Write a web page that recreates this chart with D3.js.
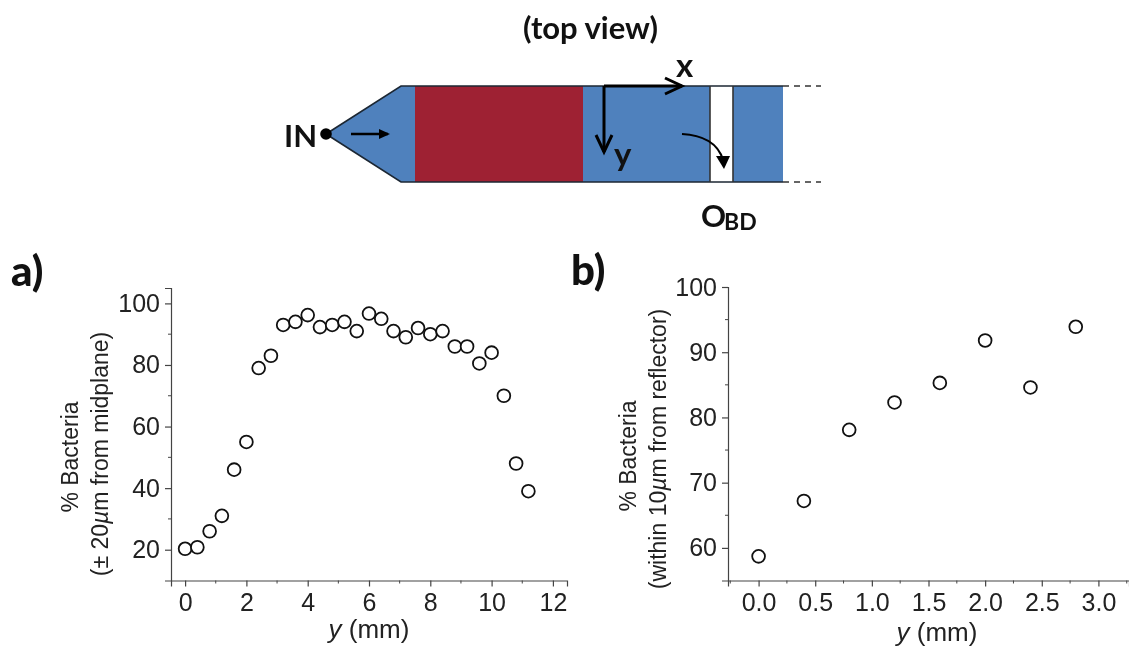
<!DOCTYPE html>
<html><head><meta charset="utf-8">
<script src="https://cdn.jsdelivr.net/npm/d3@7"></script>
<style>html,body{margin:0;padding:0;background:#fff}svg{display:block;filter:blur(0.35px)}
.tick text{font-family:"Liberation Sans",Arial,sans-serif}</style></head>
<body><svg id="c" width="1129" height="648"></svg>
<script>
const yPositionsA=[0,0.4,0.8,1.2,1.6,2,2.4,2.8,3.2,3.6,4,4.4,4.8,5.2,5.6,6,6.4,6.8,7.2,7.6,8,8.4,8.8,9.2,9.6,10,10.4,10.8,11.2];
const bacteriaA=[20.3,20.8,26,31,46,55,79,83,93,94,96.2,92.3,93,94,91,96.7,95,91,89,92,90,91,86,86,80.5,84,70,48,39];
const yPositionsB=[0,0.4,0.8,1.2,1.6,2,2.4,2.8];
const bacteriaB=[58.7,67.2,78.1,82.3,85.3,91.8,84.6,93.9];
const xTicksA=[0,2,4,6,8,10,12], xMinorA=[1,3,5,7,9,11];
const yTicksA=[20,40,60,80,100], yMinorA=[30,50,70,90];
const xTicksB=[0,0.5,1,1.5,2,2.5,3], xMinorB=[-0.25,0.25,0.75,1.25,1.75,2.25,2.75,3.25];
const yTicksB=[60,70,80,90,100], yMinorB=[65,75,85,95];

const svg=d3.select("#c");
const sans='"Liberation Sans",Arial,sans-serif', bold='Lato,"Open Sans",sans-serif';
const ink="#222";

function panel(o){
  const x=d3.scaleLinear().domain(o.xDom).range(o.xRange);
  const y=d3.scaleLinear().domain(o.yDom).range(o.yRange);
  const g=svg.append("g");
  const base=o.yRange[0], left=o.xRange[0];
  const ax=g.append("g").attr("transform",`translate(0,${base})`)
    .call(d3.axisBottom(x).tickValues(o.xTicks).tickSize(6).tickPadding(7).tickFormat(o.xFmt));
  ax.selectAll(".tick text").attr("font-size",o.tick).attr("fill",ink);
  ax.append("g").selectAll("line").data(o.xMinor).join("line")
    .attr("x1",d=>x(d)).attr("x2",d=>x(d)).attr("y1",0).attr("y2",3).attr("stroke","#444");
  const ay=g.append("g").attr("transform",`translate(${left},0)`)
    .call(d3.axisLeft(y).tickValues(o.yTicks).tickSize(6).tickPadding(5).tickFormat(d3.format("d")));
  ay.selectAll(".tick text").attr("font-size",o.tick).attr("fill",ink);
  ay.append("g").selectAll("line").data(o.yMinor).join("line")
    .attr("y1",d=>y(d)).attr("y2",d=>y(d)).attr("x1",0).attr("x2",-3).attr("stroke","#444");
  g.selectAll(".domain,.tick line").attr("stroke","#444").attr("stroke-width",1.2);
  g.append("g").selectAll("circle").data(o.xs).join("circle")
    .attr("cx",d=>x(d)).attr("cy",(d,i)=>y(o.ys[i])).attr("r",6.4)
    .attr("fill","#fff").attr("stroke","#111").attr("stroke-width",1.8);
  const t=(cx,cy,parts)=>{
    const e=g.append("text").attr("transform",`translate(${cx},${cy}) rotate(-90)`)
      .attr("text-anchor","middle").attr("font-family",sans).attr("font-size",o.title).attr("fill",ink);
    parts.forEach(p=>e.append("tspan").attr("font-style",p[1]?"italic":null).text(p[0]));
  };
  t(o.t1[0],o.t1[1],[["% Bacteria"]]);
  t(o.t2[0],o.t2[1],o.t2Parts);
  const xl=g.append("text").attr("x",o.xl[0]).attr("y",o.xl[1]).attr("text-anchor","middle")
    .attr("font-family",sans).attr("font-size",o.xlSize).attr("fill",ink);
  xl.append("tspan").attr("font-style","italic").text("y");
  xl.append("tspan").text(" (mm)");
}

panel({xDom:[-0.46,12.46],xRange:[171,567],yDom:[10,105],yRange:[580.5,288],
  xTicks:xTicksA,xMinor:xMinorA,yTicks:yTicksA,yMinor:yMinorA,xs:yPositionsA,ys:bacteriaA,
  xFmt:d3.format("d"),tick:25,title:23,xlSize:26,
  t1:[78,457],t2:[108,454],t2Parts:[["(\u00B1 20"],["\u00B5",true],["m from midplane)"]],xl:[369,638]});
panel({xDom:[-0.27,3.27],xRange:[728,1129],yDom:[55,100],yRange:[580.5,287],
  xTicks:xTicksB,xMinor:xMinorB,yTicks:yTicksB,yMinor:yMinorB,xs:yPositionsB,ys:bacteriaB,
  xFmt:d3.format(".1f"),tick:25,title:23,xlSize:26,
  t1:[636,456],t2:[666,449],t2Parts:[["(within 10"],["\u00B5",true],["m from reflector)"]],xl:[937,641]});

// panel letters
[["a)",11,286],["b)",571,285]].forEach(d=>svg.append("text").attr("x",d[1]).attr("y",d[2])
  .attr("font-family",bold).attr("font-weight",900).attr("font-size",42).attr("fill","#111").text(d[0]));

// channel schematic
const blue="#4f81bd", red="#9e2133", line=d3.line();
const chTop=86,chBot=182,chMid=134;
const g=svg.append("g");
g.append("path").attr("d",line([[326,chMid],[401,chTop],[710,chTop],[710,chBot],[401,chBot]])+"Z").attr("fill",blue);
g.append("rect").attr("x",415).attr("y",chTop).attr("width",168).attr("height",chBot-chTop).attr("fill",red);
g.append("rect").attr("x",733).attr("y",chTop).attr("width",50).attr("height",chBot-chTop).attr("fill",blue);
g.append("path").attr("d",line([[326,chMid],[401,chTop],[783,chTop]])).attr("fill","none").attr("stroke","#1c2733").attr("stroke-width",1.6);
g.append("path").attr("d",line([[326,chMid],[401,chBot],[783,chBot]])).attr("fill","none").attr("stroke","#1c2733").attr("stroke-width",1.6);
[710,733].forEach(x=>g.append("line").attr("x1",x).attr("x2",x).attr("y1",chTop).attr("y2",chBot).attr("stroke","#333").attr("stroke-width",1.6));
[chTop,chBot].forEach(y=>g.append("line").attr("x1",783).attr("x2",821).attr("y1",y).attr("y2",y).attr("stroke","#333").attr("stroke-width",1.3).attr("stroke-dasharray","6 5"));
g.append("circle").attr("cx",326).attr("cy",chMid).attr("r",5.8).attr("fill","#000");
const arrow=(pts,w)=>g.append("path").attr("d",pts).attr("fill","none").attr("stroke","#000").attr("stroke-width",w);
arrow(line([[351,134],[388,134]]),2.4);
g.append("path").attr("d",line([[379,129],[390,134],[379,139]])+"Z").attr("fill","#000");
arrow(line([[604,86],[682,86]]),3);
arrow(line([[665,78],[682,86],[665,94]]),3);
arrow(line([[604,86],[604,152]]),3);
arrow(line([[596,135],[604,152],[612,135]]),3);
arrow("M682,134 C702,135 718,143 723,160",2.2);
g.append("path").attr("d",line([[716,156],[730,156],[724,169]])+"Z").attr("fill","#000");
const lab=(t,x,y,s)=>svg.append("text").attr("x",x).attr("y",y).attr("font-family",bold).attr("font-weight",700).attr("font-size",s).attr("fill","#111").text(t);
lab("(top view)",523,39,31);
lab("IN",284,147,31);
lab("x",676,77,33);
lab("y",614,166,33);
lab("O",701,227,31);
lab("BD",724,230,23);
</script></body></html>
